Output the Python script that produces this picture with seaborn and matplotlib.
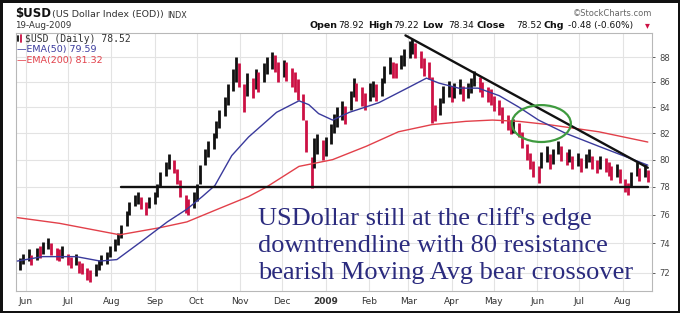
import numpy as np
import pandas as pd
import matplotlib
matplotlib.use("Agg")
import matplotlib.pyplot as plt
from matplotlib.patches import Ellipse
from matplotlib.lines import Line2D
from matplotlib.ticker import FixedLocator, FuncFormatter, NullLocator
import seaborn as sns

# ---------------- data ----------------
last_date = "2009-08-19"

closes = [72.7, 72.9, 73.2, 72.9, 73.4, 73.3, 73.8, 74.0, 73.6, 73.4,
          73.2, 73.4, 73.0, 72.7, 72.9, 72.5, 72.3, 72.0, 71.8, 72.2,
          72.6, 72.9, 73.0, 73.5, 73.9, 74.3, 74.9, 75.8, 76.5, 77.0,
          77.2, 76.9, 76.5, 76.9, 77.2, 77.8, 78.6, 79.4, 79.8, 79.5,
          78.8, 77.9, 76.8, 76.5, 77.0, 77.6, 79.0, 80.2, 80.8, 81.4,
          82.3, 83.2, 84.1, 85.0, 86.2, 87.0, 86.6, 84.8, 85.8, 85.5,
          86.2, 86.0, 86.8, 87.3, 87.8, 87.6, 86.8, 87.1, 86.9, 86.4,
          86.0, 85.4, 84.0, 81.8, 78.6, 80.6, 81.2, 80.8, 81.0, 82.0,
          82.8, 83.3, 83.8, 83.4, 84.6, 85.6, 85.2, 84.9, 84.4, 85.2,
          85.5, 85.1, 85.6, 86.6, 87.3, 87.0, 86.9, 87.6, 88.0, 88.6,
          88.9, 88.6, 87.8, 87.2, 86.9, 84.0, 83.5, 84.0, 85.0, 85.5,
          85.0, 85.3, 85.6, 85.1, 85.3, 85.7, 86.3, 85.8, 85.4, 85.0,
          84.8, 84.3, 84.0, 83.4, 82.8, 82.4, 82.6, 82.2, 81.5, 80.6,
          79.9, 79.3, 78.8, 80.0, 80.4, 79.8, 80.2, 80.9, 80.4, 80.1,
          80.3, 79.8, 80.0, 79.6, 79.9, 80.3, 79.8, 79.5, 79.8, 79.6,
          79.3, 79.0, 79.2, 78.8, 78.0, 77.8, 78.6, 79.3, 78.9, 79.2,
          78.52]

lows = [72.2, 72.6, 72.8, 72.5, 72.9, 73.0, 73.3, 73.6, 73.2, 72.9,
        72.8, 73.0, 72.5, 72.3, 72.5, 72.0, 71.9, 71.5, 71.4, 71.8,
        72.2, 72.5, 72.6, 73.1, 73.5, 73.9, 74.4, 75.2, 76.0, 76.6,
        76.8, 76.4, 76.0, 76.5, 76.8, 77.3, 78.0, 78.8, 79.3, 79.0,
        78.2, 77.3, 76.1, 76.0, 76.5, 77.0, 78.2, 79.6, 80.2, 80.8,
        81.6, 82.4, 83.3, 84.2, 85.3, 86.0, 85.6, 83.6, 84.9, 84.7,
        85.4, 85.2, 86.0, 86.6, 87.0, 86.8, 86.0, 86.4, 86.1, 85.6,
        85.2, 84.6, 83.0, 80.6, 77.9, 79.4, 80.4, 80.0, 80.3, 81.2,
        82.0, 82.5, 83.0, 82.7, 83.8, 84.8, 84.5, 84.1, 83.8, 84.5,
        84.8, 84.5, 84.9, 85.9, 86.6, 86.3, 86.3, 87.0, 87.3, 87.9,
        88.3, 87.9, 87.1, 86.5, 86.2, 82.8, 82.9, 83.4, 84.3, 84.8,
        84.4, 84.7, 85.0, 84.5, 84.7, 85.1, 85.7, 85.2, 84.8, 84.4,
        84.2, 83.7, 83.4, 82.8, 82.2, 81.9, 82.0, 81.7, 80.9, 80.0,
        79.3, 78.7, 78.3, 79.4, 79.8, 79.3, 79.7, 80.4, 79.9, 79.6,
        79.8, 79.3, 79.5, 79.1, 79.4, 79.8, 79.3, 79.0, 79.3, 79.1,
        78.8, 78.5, 78.7, 78.3, 77.6, 77.4, 78.0, 78.8, 78.4, 78.7,
        78.34]

highs = [73.0, 73.3, 73.6, 73.2, 73.7, 73.8, 74.1, 74.4, 74.0, 73.7,
         73.6, 73.8, 73.3, 73.1, 73.3, 72.8, 72.7, 72.3, 72.2, 72.6,
         72.9, 73.2, 73.4, 73.8, 74.3, 74.7, 75.3, 76.3, 76.9, 77.4,
         77.6, 77.3, 76.9, 77.3, 77.6, 78.2, 79.1, 79.8, 80.4, 80.0,
         79.3, 78.5, 77.4, 77.1, 77.6, 78.2, 79.6, 80.8, 81.4, 82.0,
         82.9, 83.8, 84.8, 85.8, 87.0, 88.0, 87.5, 85.8, 86.7, 86.3,
         87.0, 86.8, 87.5, 88.0, 88.4, 88.2, 87.6, 87.8, 87.6, 87.1,
         86.8, 86.2, 85.0, 83.0, 80.2, 81.6, 81.9, 81.5, 81.7, 82.7,
         83.5, 84.0, 84.5, 84.1, 85.3, 86.3, 85.9, 85.6, 85.1, 85.9,
         86.1, 85.8, 86.3, 87.3, 88.0, 87.6, 87.5, 88.2, 88.7, 89.3,
         89.5, 89.2, 88.5, 87.9, 87.6, 86.4, 84.2, 84.7, 85.7, 86.1,
         85.7, 85.9, 86.2, 85.7, 85.9, 86.3, 86.9, 86.4, 86.0, 85.6,
         85.4, 84.9, 84.6, 84.0, 83.4, 83.0, 83.1, 82.8, 82.1, 81.2,
         80.5, 79.9, 79.5, 80.6, 81.0, 80.4, 80.8, 81.4, 81.0, 80.6,
         80.8, 80.3, 80.5, 80.1, 80.4, 80.8, 80.3, 80.0, 80.3, 80.1,
         79.8, 79.5, 79.7, 79.3, 78.6, 78.3, 79.1, 79.8, 79.4, 79.7,
         79.22]

ema50_dates = ["2008-05-26", "2008-06-13", "2008-07-07", "2008-07-24", "2008-08-05",
               "2008-08-22", "2008-09-10", "2008-09-24", "2008-10-05", "2008-10-14",
               "2008-10-26", "2008-11-07", "2008-11-27", "2008-12-13", "2008-12-20",
               "2008-12-27", "2009-01-06", "2009-01-18", "2009-02-08", "2009-03-02",
               "2009-03-14", "2009-03-23", "2009-04-06", "2009-04-20", "2009-05-05",
               "2009-05-19", "2009-06-02", "2009-06-21", "2009-07-15", "2009-08-19"]
ema50_values = [72.8, 73.1, 73.1, 72.8, 72.9, 74.1, 75.5, 76.4, 77.3, 78.1,
                80.3, 81.7, 83.6, 84.5, 84.2, 83.5, 83.0, 83.6, 84.35, 85.6,
                86.3, 85.9, 85.5, 85.5, 84.9, 84.0, 83.0, 82.0, 81.0, 79.59]

ema200_dates = ["2008-05-26", "2008-06-25", "2008-08-07", "2008-09-05", "2008-09-24",
                "2008-10-16", "2008-11-07", "2008-11-20", "2008-12-13", "2009-01-06",
                "2009-01-30", "2009-02-22", "2009-03-18", "2009-04-11", "2009-04-30",
                "2009-05-19", "2009-06-09", "2009-07-15", "2009-08-19"]
ema200_values = [75.8, 75.4, 74.6, 75.1, 75.5, 76.4, 77.3, 78.0, 79.5, 80.0,
                 81.0, 82.1, 82.65, 82.9, 83.0, 82.9, 82.65, 82.1, 81.32]

trend_dates = ["2009-02-27", "2009-08-19"]
trend_values = [89.8, 79.4]
support_dates = ["2008-08-08", "2009-08-19"]
support_values = [78.0, 78.0]

month_labels = ["Jun", "Jul", "Aug", "Sep", "Oct", "Nov", "Dec", "2009",
                "Feb", "Mar", "Apr", "May", "Jun", "Jul", "Aug"]
y_ticks = [72, 74, 76, 78, 80, 82, 84, 86, 88]

annotation_lines = ["USDollar still at the cliff's edge",
                    "downtrendline with 80 resistance",
                    "bearish Moving Avg bear crossover"]

header_items = [("Open", True), ("78.92", False), ("High", True), ("79.22", False),
                ("Low", True), ("78.34", False), ("Close", True), ("78.52", False),
                ("Chg", True), ("-0.48 (-0.60%)", False)]

# ---------------- styling ----------------
sns.set_theme(style="white")
plt.rcParams["font.family"] = ["DejaVu Sans"]

W, H = 680, 313
fig = plt.figure(figsize=(W / 100, H / 100), dpi=100)
fig.patch.set_facecolor("white")
fig.patch.set_edgecolor("#111111")
fig.patch.set_linewidth(2.5)

def fx(x):
    return x / W

def fy(y):
    return 1 - y / H

ax = fig.add_axes([fx(16), fy(291), (652 - 16) / W, (291 - 33) / H])
ax.set_facecolor("white")

BAR_RED = "#cc1144"
BLUE = "#3a3a9c"
RED = "#e2404a"

# price bars
dates = pd.bdate_range(end=last_date, periods=len(closes), freq="2B")
prev = [closes[0]] + closes[:-1]
colors = ["#111111" if c >= p else BAR_RED for c, p in zip(closes, prev)]
ax.vlines(dates, lows, highs, colors=colors, linewidth=2.0, zorder=3)

# moving averages (seaborn)
ema50_df = pd.DataFrame({"date": pd.to_datetime(ema50_dates), "value": ema50_values})
ema200_df = pd.DataFrame({"date": pd.to_datetime(ema200_dates), "value": ema200_values})
sns.lineplot(data=ema200_df, x="date", y="value", ax=ax, color=RED, linewidth=1.0, zorder=4)
sns.lineplot(data=ema50_df, x="date", y="value", ax=ax, color=BLUE, linewidth=1.0, zorder=4)

# trend and support lines
trend_df = pd.DataFrame({"date": pd.to_datetime(trend_dates), "value": trend_values})
support_df = pd.DataFrame({"date": pd.to_datetime(support_dates), "value": support_values})
sns.lineplot(data=trend_df, x="date", y="value", ax=ax, color="#111111", linewidth=1.7, zorder=5)
sns.lineplot(data=support_df, x="date", y="value", ax=ax, color="#111111", linewidth=1.7, zorder=5)

# axes setup
ax.set_yscale("log")
ax.set_ylim(70.8, 90.0)
ax.set_xlim(pd.Timestamp("2008-05-25"), pd.Timestamp("2009-08-22"))
ax.yaxis.set_major_locator(FixedLocator(y_ticks))
ax.yaxis.set_major_formatter(FuncFormatter(lambda v, _: f"{v:.0f}"))
ax.yaxis.set_minor_locator(NullLocator())
ax.yaxis.tick_right()
month_ticks = pd.date_range("2008-06-01", periods=len(month_labels), freq="MS")
ax.set_xticks(month_ticks)
ax.set_xticklabels(month_labels)
for lbl in ax.get_xticklabels():
    if lbl.get_text() == "2009":
        lbl.set_fontweight("bold")
        lbl.set_color("#111111")
ax.set_xlabel("")
ax.set_ylabel("")
ax.tick_params(axis="x", length=0, pad=4, labelsize=6.5, colors="#333333")
ax.tick_params(axis="y", length=2, pad=3, labelsize=6, colors="#444444",
               right=True, left=False, width=0.6)
ax.grid(True, color="#e3e3e3", linewidth=0.8, zorder=0)
ax.set_axisbelow(True)
for s in ax.spines.values():
    s.set_color("#b8b8b8")
    s.set_linewidth(0.8)

# crossover ellipse
ax.add_patch(Ellipse((0.826, 0.649), 0.0928, 0.143, transform=ax.transAxes,
                     fill=False, edgecolor="#3f9b3f", linewidth=1.6, zorder=6))

# annotation text
for i, line in enumerate(annotation_lines):
    fig.text(fx(258), fy(225 + 27 * i), line, family="Liberation Serif",
             fontsize=19, color="#2b2b7e", va="baseline", ha="left")

# in-plot legend
fig.text(fx(25), fy(38.5), f"$USD (Daily) {closes[-1]:.2f}", family="DejaVu Sans Mono",
         fontsize=7, color="#333333", va="center", ha="left")
fig.add_artist(Line2D([fx(18), fx(18)], [fy(41), fy(36)], color="#111111", lw=1.3))
fig.add_artist(Line2D([fx(20.5), fx(20.5)], [fy(42), fy(35)], color=BAR_RED, lw=1.3))
fig.text(fx(17), fy(49.5), f"\u2014EMA(50) {ema50_values[-1]:.2f}", fontsize=6.8,
         color=BLUE, va="center", ha="left")
fig.text(fx(17), fy(61), f"\u2014EMA(200) {ema200_values[-1]:.2f}", fontsize=6.8,
         color=RED, va="center", ha="left")

# header
fig.text(fx(15), fy(17.5), "$USD", fontsize=8.5, fontweight="bold", color="#111111",
         va="baseline", ha="left")
fig.text(fx(52), fy(17.5), "(US Dollar Index (EOD))", fontsize=6.8, color="#333333",
         va="baseline", ha="left")
fig.text(fx(167), fy(17.5), "INDX", fontsize=5.8, color="#333333",
         va="baseline", ha="left")
fig.text(fx(15), fy(28), "19-Aug-2009", fontsize=6.3, color="#333333",
         va="baseline", ha="left")
fig.text(fx(652), fy(16), "\u00a9StockCharts.com", fontsize=6, color="#666666",
         va="baseline", ha="right")

header_x = [310, 338, 368, 393, 422, 448, 477, 516, 544, 568]
for (txt, bold), xx in zip(header_items, header_x):
    fig.text(fx(xx), fy(28), txt, fontsize=6.8 if bold else 6.5,
             fontweight="bold" if bold else "normal", color="#111111",
             va="baseline", ha="left")
fig.text(fx(645), fy(28), "\u25be", fontsize=7, color=BAR_RED, va="baseline", ha="left")

fig.savefig("out.png", dpi=100, facecolor="white", edgecolor=fig.get_edgecolor())
